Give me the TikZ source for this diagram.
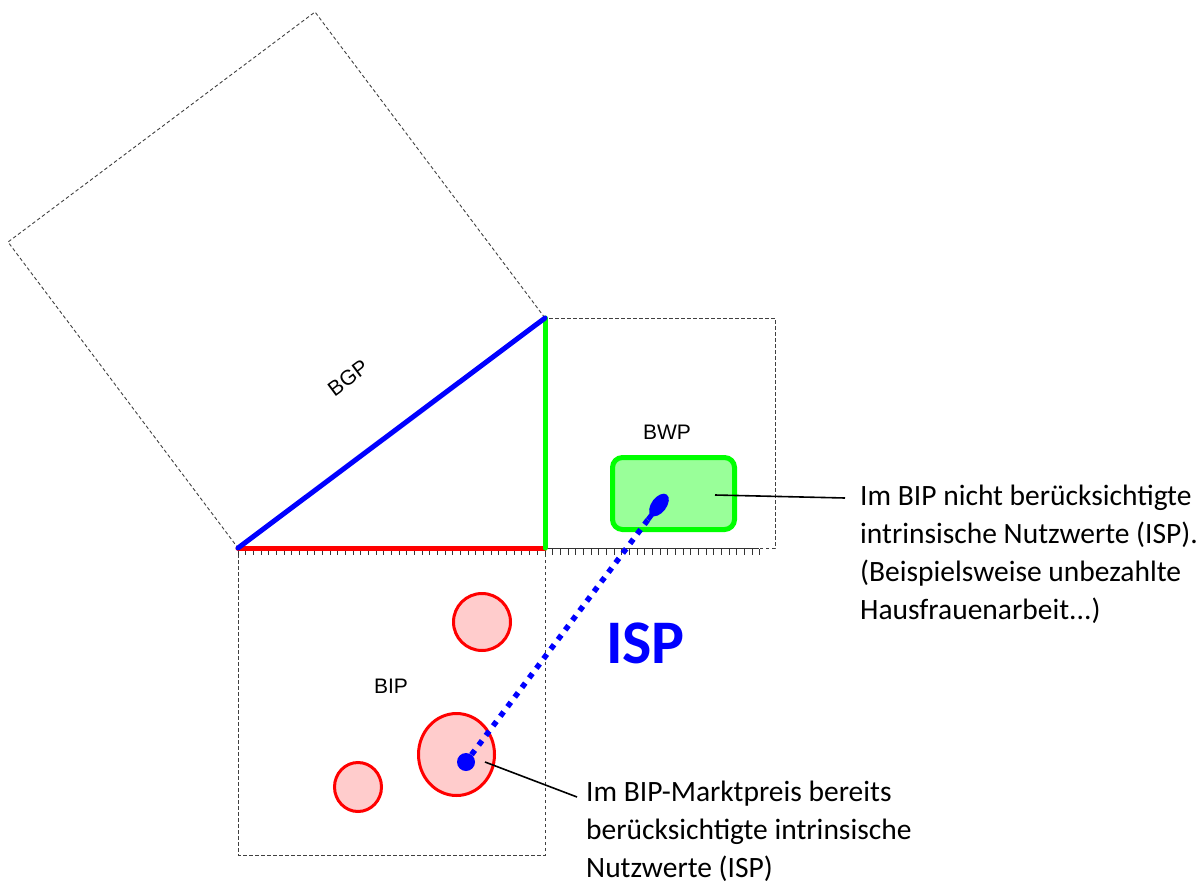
\documentclass[tikz,border=0pt]{standalone}
\usepackage{fontspec}
\setmainfont{Carlito}
\newfontfamily\sansarial{Liberation Sans}
\usetikzlibrary{positioning,calc,shapes.geometric}

\begin{document}
\begin{tikzpicture}[x=1pt,y=-1pt,
    frame/.style={draw=black!75,line width=0.9pt,dash pattern=on 3.5pt off 2.5pt},
    leg/.style={line width=5pt,line cap=round},
    tickmark/.style={draw=black!80,line width=1pt},
    isp/.style={ellipse,draw=red,line width=3pt,fill=red!20,inner sep=0pt},
    square/.style={font=\sansarial\fontsize{21}{25}\selectfont},
    note/.style={font=\fontsize{29.5}{38}\selectfont,align=left,anchor=base west,inner sep=0pt},
    pointer/.style={draw=black,line width=1.6pt}]
  \useasboundingbox (0,0) rectangle (1203,886);
  % corners of the triangle
  \coordinate (A) at (238,548);
  \coordinate (B) at (545,548);
  \coordinate (C) at (545,318);
  % squares on the sides
  \draw[frame] (A) -- (C) -- (315,12) -- (8,242) -- cycle;
  \draw[frame] (B) rectangle (775,318);
  \draw[frame] (A) rectangle (545,855);
  % scales
  \draw[tickmark] (B) -- (759,548);
  \foreach \i in {0,...,40} \draw[tickmark] (238+\i*7.675,549) -- ++(0,6);
  \foreach \i in {0,...,28} \draw[tickmark] (545+\i*7.675,549) -- ++(0,6);
  % sides
  \draw[leg,red] (A) -- (B);
  \draw[leg,green] (B) -- (C);
  \draw[leg,blue] (A) -- (C);
  \node[square,rotate=36.8] (bgp) at (348,378) {BGP};
  \node[square] (bwp) at (667,432) {BWP};
  \node[square] (bip) at (391,686) {BIP};
  % values inside the BIP
  \node[isp,minimum width=57,minimum height=57] (isp_a) at (482,622) {};
  \node[isp,minimum width=76,minimum height=82] (isp_b) at (456.5,754.5) {};
  \node[isp,minimum width=47,minimum height=49] (isp_c) at (358,787) {};
  % values outside the BIP
  \node[draw=green,line width=5pt,fill=green!40,rounded corners=10pt,
        minimum width=122,minimum height=72] (bwp_box) at (673.5,493.5) {};
  \node[circle,fill=blue,inner sep=0pt,minimum size=18] (isp_dot) at (466,762) {};
  \node[ellipse,fill=blue,inner sep=0pt,minimum width=26,minimum height=15,
        rotate=53] (isp_oval) at (659,505) {};
  \draw[blue,line width=5.5pt,dash pattern=on 5.5pt off 6.5pt] (isp_dot) -- (isp_oval);
  \draw[blue,line width=5pt] (isp_oval.center) -- ($(isp_oval.center)!1.4!(isp_oval.west)$);
  \node[font=\bfseries\fontsize{62}{70}\selectfont,text=blue] (isp_title) at (645.5,643.5) {ISP};
  % notes
  \node[note] (note_out) at (860,619) {Im BIP nicht berücksichtigte\\intrinsische Nutzwerte (ISP).\\(Beispielsweise unbezahlte\\Hausfrauenarbeit...)};
  \node[note] (note_in) at (586,877) {Im BIP-Marktpreis bereits\\berücksichtigte intrinsische\\Nutzwerte (ISP)};
  \coordinate (out_tip) at (715,495);
  \coordinate (out_end) at (845,498);
  \coordinate (in_tip) at (485,762);
  \coordinate (in_end) at (577,797);
  \draw[pointer] (out_tip) -- (out_end);
  \draw[pointer] (in_tip) -- (in_end);
\end{tikzpicture}
\end{document}
